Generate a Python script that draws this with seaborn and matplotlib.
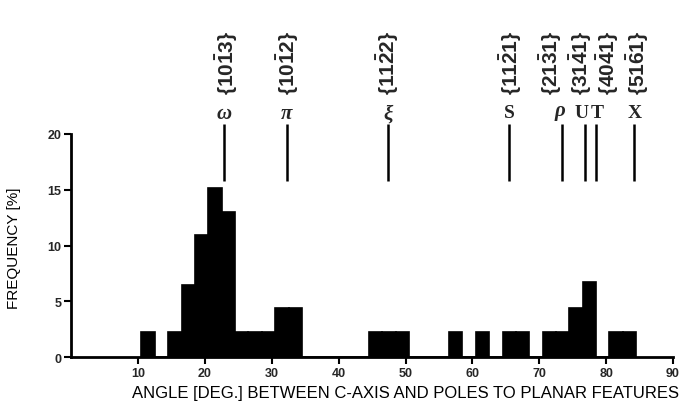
import numpy as np
import pandas as pd
import matplotlib
matplotlib.use("Agg")
import matplotlib.pyplot as plt
import seaborn as sns

# ---- data ----
bin_centers = [11.5, 15.5, 17.5, 19.5, 21.5, 23.5, 25.5, 27.5, 29.5, 31.5, 33.5,
               45.5, 47.5, 49.5, 57.5, 61.5, 65.5, 67.5, 71.5, 73.5, 75.5, 77.5,
               81.5, 83.5]
frequency = [2.2, 2.2, 6.5, 10.9, 15.2, 13.0, 2.2, 2.2, 2.2, 4.4, 4.4,
             2.2, 2.2, 2.2, 2.2, 2.2, 2.2, 2.2, 2.2, 2.2, 4.4, 6.7,
             2.2, 2.2]
bin_edges = [10.5 + 2 * i for i in range(38)]

feature_angle = [22.8, 32.2, 47.4, 65.5, 73.4, 76.8, 78.5, 84.1]
feature_symbol = [r"$\omega$", r"$\pi$", r"$\xi$", "S", r"$\rho$", "U", "T", "X"]
feature_index = [r"$\mathbf{\{10\bar{1}3\}}$", r"$\mathbf{\{10\bar{1}2\}}$",
                 r"$\mathbf{\{11\bar{2}2\}}$", r"$\mathbf{\{11\bar{2}1\}}$",
                 r"$\mathbf{\{21\bar{3}1\}}$", r"$\mathbf{\{31\bar{4}1\}}$",
                 r"$\mathbf{\{40\bar{4}1\}}$", r"$\mathbf{\{51\bar{6}1\}}$"]

x_ticks = [10, 20, 30, 40, 50, 60, 70, 80, 90]
y_ticks = [0, 5, 10, 15, 20]

# ---- style ----
sns.set_theme(style="ticks")
plt.rcParams["font.family"] = ["Liberation Sans", "DejaVu Sans"]
plt.rcParams["mathtext.fontset"] = "custom"
plt.rcParams["mathtext.bf"] = "Liberation Sans:bold"
plt.rcParams["mathtext.rm"] = "Liberation Sans"
plt.rcParams["mathtext.it"] = "Liberation Serif:italic:bold"

fig = plt.figure(figsize=(6.85, 4.06), dpi=100)
ax = fig.add_axes([0.104, 0.1182, 0.8785, 0.5493])

df = pd.DataFrame({"angle": bin_centers, "freq": frequency})
sns.histplot(data=df, x="angle", weights="freq", bins=bin_edges, ax=ax,
             color="black", alpha=1.0, edgecolor="black", linewidth=1.2)

ax.set_xlim(0, 90)
ax.set_ylim(0, 20)
ax.set_xticks(x_ticks)
ax.set_yticks(y_ticks)
ax.tick_params(axis="both", direction="out", length=5, width=1.5,
               labelsize=9, color="black", pad=2)
for lbl in ax.get_xticklabels() + ax.get_yticklabels():
    lbl.set_fontweight("bold")

for side in ["top", "right"]:
    ax.spines[side].set_visible(False)
for side in ["left", "bottom"]:
    ax.spines[side].set_linewidth(2.0)
    ax.spines[side].set_color("black")

ax.set_xlabel("ANGLE [DEG.] BETWEEN C-AXIS AND POLES TO PLANAR FEATURES",
              fontsize=12, color="black")
ax.xaxis.set_label_coords(0.556, -0.125)
ax.set_ylabel("FREQUENCY [%]", fontsize=11, color="black")
ax.yaxis.set_label_coords(-0.083, 0.493)

# feature markers
index_offsets = [2, 1, 0, 1, -8, -3, 8.5, 3]      # points
symbol_offsets = [0, 0, 0, 0, -1, -2, 1, 1]
for i, ang in enumerate(feature_angle):
    ax.plot([ang, ang], [15.8, 20.9], color="black", lw=1.8, clip_on=False,
            solid_capstyle="butt")
    sym = feature_symbol[i]
    if sym.startswith("$"):
        ax.annotate(sym, (ang, 21.9), xytext=(symbol_offsets[i], 0),
                    textcoords="offset points", ha="center", va="center",
                    fontsize=15, annotation_clip=False)
    else:
        ax.annotate(sym, (ang, 21.9), xytext=(symbol_offsets[i], 0),
                    textcoords="offset points", ha="center", va="center",
                    fontsize=14, fontweight="bold", family="Liberation Serif",
                    annotation_clip=False)
    ax.annotate(feature_index[i], (ang, 23.6), xytext=(index_offsets[i], 0),
                textcoords="offset points", ha="center", va="bottom",
                rotation=90, fontsize=15, annotation_clip=False)

fig.savefig("out.png", dpi=100)
